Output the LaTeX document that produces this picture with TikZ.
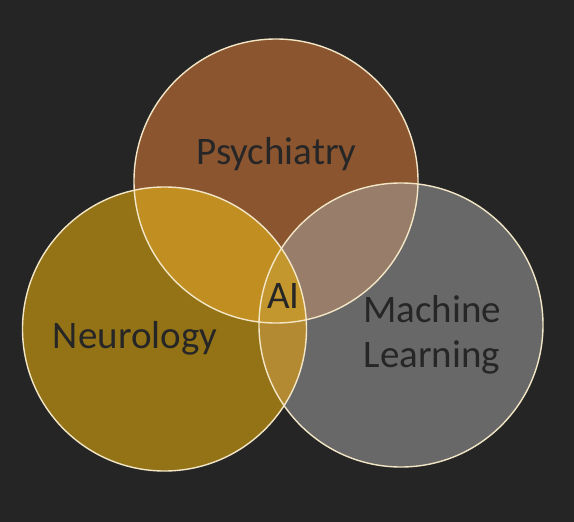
\documentclass[tikz,border=0pt]{standalone}
\usepackage{fontspec}
\setmainfont{Carlito}
\definecolor{bgcol}{HTML}{252525}
\definecolor{psycol}{HTML}{8B5530}
\definecolor{neucol}{HTML}{937316}
\definecolor{mlcol}{HTML}{686868}
\definecolor{pncol}{HTML}{C18E22}
\definecolor{pmcol}{HTML}{977D6A}
\definecolor{nmcol}{HTML}{B38A32}
\definecolor{aicol}{HTML}{C4962E}
\definecolor{ringcol}{HTML}{F3E6C6}
\definecolor{txtcol}{HTML}{262626}
\tikzset{
  ring/.style={draw=ringcol, line width=1.4pt},
  field/.style={text=txtcol, anchor=base, font=\fontsize{39}{46}\selectfont, inner sep=0pt},
}
\begin{document}
\begin{tikzpicture}[x=1pt, y=-1pt]
  \def\rad{142}
  \fill[bgcol] (0,0) rectangle (574,522);
  \coordinate (psy) at (276,181);
  \coordinate (neu) at (164.5,329);
  \coordinate (ml) at (401,325);
  % circles
  \fill[psycol] (psy) circle[radius=\rad];
  \fill[neucol] (neu) circle[radius=\rad];
  \fill[mlcol] (ml) circle[radius=\rad];
  % overlaps
  \begin{scope}
    \clip (psy) circle[radius=\rad];
    \fill[pncol] (neu) circle[radius=\rad];
    \fill[pmcol] (ml) circle[radius=\rad];
  \end{scope}
  \begin{scope}
    \clip (neu) circle[radius=\rad];
    \fill[nmcol] (ml) circle[radius=\rad];
    \clip (ml) circle[radius=\rad];
    \fill[aicol] (psy) circle[radius=\rad];
  \end{scope}
  % outlines
  \draw[ring] (psy) circle[radius=\rad];
  \draw[ring] (neu) circle[radius=\rad];
  \draw[ring] (ml) circle[radius=\rad];
  % labels
  \node[field] (psylabel) at (276.5,164) {Psychiatry};
  \node[field] (neulabel) at (135,348) {Neurology};
  \node[field] (ailabel) at (283.5,308) {AI};
  \node[field] (mlabel) at (432,322) {Machine};
  \node[field] (llabel) at (432,367) {Learning};
\end{tikzpicture}
\end{document}
